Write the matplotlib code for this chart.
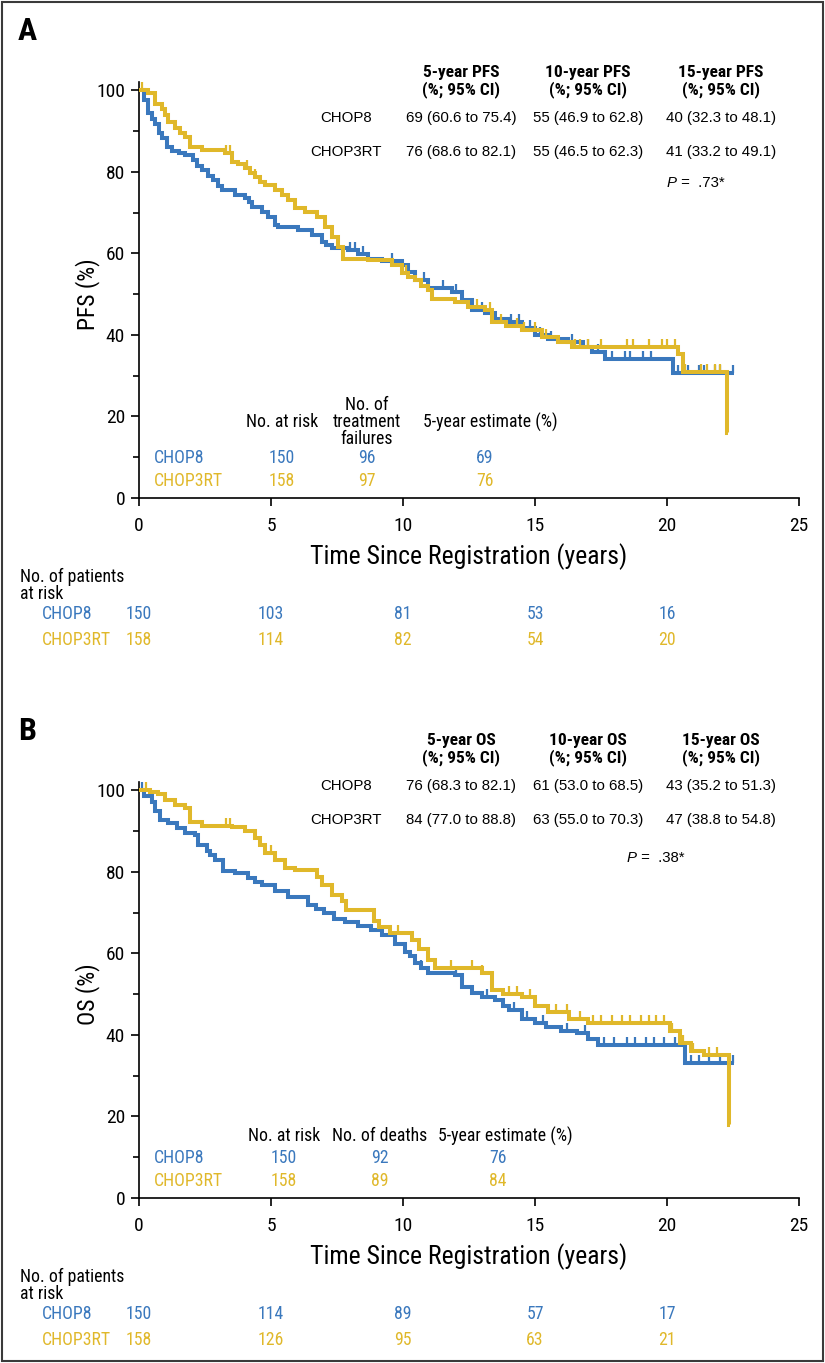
import numpy as np
import matplotlib
matplotlib.use("Agg")
import matplotlib.pyplot as plt
from matplotlib.patches import Rectangle
import matplotlib.transforms as mtransforms
from matplotlib import font_manager

# ---------------- data ----------------
arms = ["CHOP8", "CHOP3RT"]

# Panel A: PFS step curves (time in years, PFS %)
A_chop8_t = [0, 0.2, 0.35, 0.5, 0.61, 0.75, 0.86, 1.05, 1.24, 1.5, 1.74, 2.06, 2.2, 2.37, 2.6, 2.82, 3.0,
             3.13, 3.64, 4.02, 4.15, 4.27, 4.65, 4.9, 5.15, 5.28, 6.03, 6.54, 6.92, 7.1, 7.3, 7.93, 8.3,
             8.69, 9.2, 9.95, 10.2, 10.45, 10.96, 11.84, 12.22, 12.6, 13.1, 13.48, 13.99, 14.5, 15.0,
             15.5, 16.26, 16.8, 17.15, 17.65, 20.24, 22.55]
A_chop8_v = [100, 97.5, 94.3, 93.0, 91.8, 89.5, 88.2, 86.1, 85.1, 84.5, 84.1, 82.8, 81.5, 80.4, 79.0, 77.9, 76.5,
             75.5, 74.3, 73.5, 72.5, 71.4, 70.2, 68.9, 66.9, 66.5, 65.7, 64.5, 62.8, 62.0, 61.2, 60.8, 59.8,
             58.7, 58.0, 57.1, 55.5, 53.4, 51.4, 50.6, 48.5, 46.1, 45.3, 44.0, 43.2, 41.6, 40.0,
             39.1, 38.3, 37.0, 35.9, 34.2, 30.7, 30.7]
A_chop3rt_t = [0, 0.35, 0.61, 0.86, 1.0, 1.11, 1.36, 1.55, 1.74, 1.93, 2.37, 3.26, 3.51, 3.75, 4.02, 4.2,
               4.39, 4.6, 4.77, 5.15, 5.4, 5.66, 5.91, 6.29, 6.73, 7.05, 7.3, 7.55, 7.74, 8.69, 9.57, 9.95,
               10.2, 10.45, 10.7, 10.96, 11.09, 11.97, 12.47, 13.1, 13.36, 13.9, 14.5, 15.25, 15.88, 16.4,
               20.43, 20.6, 22.28, 22.3]
A_chop3rt_v = [100, 99.2, 96.7, 95.5, 93.8, 92.2, 90.6, 89.5, 88.6, 86.1, 85.3, 84.5, 82.4, 81.8, 80.8, 79.8,
               78.8, 77.5, 76.7, 75.5, 74.3, 73.0, 71.0, 70.2, 68.9, 66.5, 64.0, 61.6, 58.7, 58.3, 57.1, 55.1,
               54.2, 53.4, 52.0, 51.0, 48.9, 48.1, 46.9, 46.1, 43.2, 42.2, 41.2, 39.5, 38.3, 37.1,
               35.4, 31.0, 16.0, 16.0]
A_chop8_cens = [8.0, 8.2, 8.5, 9.6, 10.8, 11.5, 12.0, 13.0, 14.1, 14.4, 14.8, 15.2, 15.6, 16.4, 17.0, 17.4,
                17.9, 18.4, 18.6, 19.1, 19.4, 20.4, 20.6, 20.8, 21.2, 21.4, 21.8, 22.0, 22.5]
A_chop3rt_cens = [0.1, 3.3, 3.45, 4.1, 4.4, 10.1, 12.8, 13.3, 13.7, 14.3, 14.6, 15.0, 15.4, 16.5, 16.7, 17.0,
                  17.5, 18.5, 18.7, 19.3, 19.8, 20.0, 20.3, 20.7, 21.3, 21.5, 21.8, 22.0]

# Panel B: OS step curves
B_chop8_t = [0, 0.2, 0.48, 0.6, 0.8, 1.11, 1.43, 1.74, 2.12, 2.25, 2.56, 2.7, 2.88, 3.19, 3.64, 4.14, 4.4,
             4.65, 5.15, 5.66, 6.03, 6.41, 6.7, 7.0, 7.4, 7.8, 8.3, 8.8, 9.2, 9.7, 10.08, 10.25, 10.45,
             10.7, 10.96, 11.97, 12.22, 12.6, 13.0, 13.5, 13.8, 14.0, 14.5, 15.0, 15.4, 16.0, 16.6, 17.0,
             17.4, 20.7, 22.55]
B_chop8_v = [100, 98.5, 97.2, 95.0, 92.7, 91.9, 90.7, 89.5, 89.0, 86.6, 85.0, 84.0, 82.9, 80.1, 79.7, 78.4, 77.6,
             76.8, 75.2, 73.9, 73.7, 71.9, 70.8, 69.8, 68.4, 67.6, 66.8, 65.6, 64.6, 62.4, 60.4, 59.3, 57.5,
             56.3, 55.1, 54.7, 51.8, 50.2, 49.3, 48.5, 47.0, 46.0, 44.0, 43.0, 42.0, 41.0, 40.5, 39.0,
             37.5, 33.0, 33.0]
B_chop3rt_t = [0, 0.4, 0.73, 0.98, 1.36, 1.74, 1.93, 2.37, 3.51, 4.02, 4.39, 4.6, 4.77, 5.15, 5.53, 5.91,
               6.73, 6.92, 7.3, 7.68, 7.85, 8.9, 9.1, 9.5, 10.33, 10.6, 10.96, 11.2, 12.98, 13.36, 13.8,
               14.5, 15.0, 15.5, 16.3, 17.0, 20.1, 20.5, 20.9, 21.4, 22.35, 22.4]
B_chop3rt_v = [100, 99.5, 99.0, 97.6, 96.4, 95.6, 92.3, 91.1, 90.9, 89.9, 88.2, 86.5, 84.6, 82.9, 80.9, 80.5,
               78.8, 76.8, 74.3, 72.7, 70.5, 68.0, 66.5, 64.9, 63.2, 61.0, 58.3, 56.3, 55.1, 51.0, 50.0,
               49.3, 47.0, 45.5, 44.0, 43.0, 41.0, 38.0, 36.0, 35.0, 18.0, 18.0]
B_chop8_cens = [0.1, 10.7, 12.0, 13.2, 14.2, 14.7, 15.3, 16.2, 16.9, 17.6, 18.0, 18.5, 18.8, 19.2, 19.5,
                19.9, 20.3, 20.9, 21.2, 21.6, 22.0, 22.5]
B_chop3rt_cens = [0.25, 3.3, 3.45, 4.4, 5.0, 9.8, 11.8, 12.6, 13.0, 14.0, 14.3, 14.8, 15.5, 15.8, 16.2, 16.7,
                  17.2, 17.5, 17.9, 18.3, 18.6, 19.0, 19.3, 19.6, 19.9, 20.2, 20.6, 21.0, 21.6, 21.9]

# summary tables
A_header = ["5-year PFS", "10-year PFS", "15-year PFS"]
A_estimates = {"CHOP8": ["69 (60.6 to 75.4)", "55 (46.9 to 62.8)", "40 (32.3 to 48.1)"],
               "CHOP3RT": ["76 (68.6 to 82.1)", "55 (46.5 to 62.3)", "41 (33.2 to 49.1)"]}
A_p = ".73*"
B_header = ["5-year OS", "10-year OS", "15-year OS"]
B_estimates = {"CHOP8": ["76 (68.3 to 82.1)", "61 (53.0 to 68.5)", "43 (35.2 to 51.3)"],
               "CHOP3RT": ["84 (77.0 to 88.8)", "63 (55.0 to 70.3)", "47 (38.8 to 54.8)"]}
B_p = ".38*"

# inset tables
A_inset_cols = ["No. at risk", "No. of\ntreatment\nfailures", "5-year estimate (%)"]
A_inset = {"CHOP8": ["150", "96", "69"], "CHOP3RT": ["158", "97", "76"]}
B_inset_cols = ["No. at risk", "No. of deaths", "5-year estimate (%)"]
B_inset = {"CHOP8": ["150", "92", "76"], "CHOP3RT": ["158", "89", "84"]}

# number at risk
risk_times = [0, 5, 10, 15, 20]
A_risk = {"CHOP8": [150, 103, 81, 53, 16], "CHOP3RT": [158, 114, 82, 54, 20]}
B_risk = {"CHOP8": [150, 114, 89, 57, 17], "CHOP3RT": [158, 126, 95, 63, 21]}

# ---------------- style ----------------
W, H = 825, 1363
BLUE = "#3a78bd"
GOLD = "#e0b82a"
colors = {"CHOP8": BLUE, "CHOP3RT": GOLD}

available = {f.name for f in font_manager.fontManager.ttflist}
narrow_pref = ["Roboto Condensed", "Liberation Sans Narrow", "DejaVu Sans Condensed", "Roboto"]
NARROW = [f for f in narrow_pref if f in available][:1] + ["DejaVu Sans"]
REG = ["Liberation Sans", "DejaVu Sans"]

fig = plt.figure(figsize=(W / 100, H / 100), dpi=100)


def fx(x):
    return x / W


def fy(y):
    return 1 - y / H


def txt(x, y, s, **kw):
    kw.setdefault("ha", "center")
    kw.setdefault("va", "center")
    fig.text(fx(x), fy(y), s, **kw)


def step_value(t_arr, v_arr, t):
    i = np.searchsorted(np.asarray(t_arr), t, side="right") - 1
    return np.asarray(v_arr)[max(i, 0)]


def panel(off, letter, ylab, curves, cens, header, estimates, pval, p_x, tab_off,
          inset_cols, inset_x, inset, inset_vals_x, inset_hdr_y, risk):
    y_axis0 = 498 + off
    ax = fig.add_axes([fx(139), fy(y_axis0), fx(799) - fx(139), (416) / H])
    for arm in arms:
        t, v = curves[arm]
        ax.step(t, v, where="post", color=colors[arm], lw=2.9, solid_joinstyle="miter",
                solid_capstyle="butt", zorder=3 if arm == "CHOP3RT" else 2)
        ct = np.asarray(cens[arm])
        cv = [step_value(t, v, c) for c in ct]
        ax.plot(ct, cv, ls="none", marker=[(0, 0), (0, 1)], ms=11, mew=1.6,
                color=colors[arm], zorder=3 if arm == "CHOP3RT" else 2)
    ax.set_xlim(0, 25)
    ax.set_ylim(0, 102)
    ax.spines["top"].set_visible(False)
    ax.spines["right"].set_visible(False)
    for s in ("left", "bottom"):
        ax.spines[s].set_linewidth(1.2)
    ax.set_xticks([0, 5, 10, 15, 20, 25])
    ax.set_yticks([0, 20, 40, 60, 80, 100])
    ax.set_yticks([10, 30, 50, 70, 90], minor=True)
    ax.tick_params(axis="both", which="major", length=6, width=1.2, direction="out",
                   labelsize=14, pad=4)
    ax.tick_params(axis="y", which="minor", length=4, width=1.2)
    ax.tick_params(axis="x", pad=8)
    for lab in ax.get_xticklabels() + ax.get_yticklabels():
        lab.set_family(NARROW)
    ax.patch.set_alpha(0)

    # labels
    txt(18, 31 + off, letter, ha="left", family=NARROW, weight="bold", fontsize=23)
    txt(88, 294 + off, ylab, rotation=90, family=NARROW, fontsize=17)
    txt(469, 557 + off, "Time Since Registration (years)", family=NARROW, fontsize=18.5)

    # summary table
    col_x = [461, 588, 721]
    for cx, h in zip(col_x, header):
        txt(cx, 72 + off + tab_off, h, family=NARROW, weight="bold", fontsize=12.5)
        txt(cx, 90 + off + tab_off, "(%; 95% CI)", family=NARROW, weight="bold", fontsize=12.5)
    row_y = {"CHOP8": 118 + off + tab_off, "CHOP3RT": 152 + off + tab_off}
    for arm in arms:
        txt(346, row_y[arm], arm, family=REG, fontsize=10.8)
        for cx, s in zip(col_x, estimates[arm]):
            txt(cx, row_y[arm], s, family=REG, fontsize=10.8)
    py = row_y["CHOP3RT"] + (31 if off == 0 else 38)
    txt(p_x, py, "P", ha="left", family=REG, style="italic", fontsize=10.8)
    txt(p_x + 10, py, " =  " + pval, ha="left", family=REG, fontsize=10.8)

    # inset table
    for cx, h in zip(inset_x, inset_cols):
        txt(cx, inset_hdr_y + off, h, family=NARROW, fontsize=12.8, linespacing=0.95)
    inset_row_y = {"CHOP8": 458 + off, "CHOP3RT": 481 + off}
    for arm in arms:
        txt(154, inset_row_y[arm], arm, ha="left", family=NARROW, fontsize=12.8, color=colors[arm])
        for cx, s in zip(inset_vals_x, inset[arm]):
            txt(cx, inset_row_y[arm], s, family=NARROW, fontsize=12.8, color=colors[arm])

    # number at risk table below
    txt(20, 577 + off, "No. of patients", ha="left", family=NARROW, fontsize=12.8)
    txt(20, 594 + off, "at risk", ha="left", family=NARROW, fontsize=12.8)
    trans = mtransforms.blended_transform_factory(ax.transData, fig.transFigure)
    risk_y = {"CHOP8": 614 + off, "CHOP3RT": 640 + off}
    for arm in arms:
        txt(42, risk_y[arm], arm, ha="left", family=NARROW, fontsize=12.8, color=colors[arm])
        for t, n in zip(risk_times, risk[arm]):
            ax.text(t, fy(risk_y[arm]), str(n), transform=trans, ha="center", va="center",
                    family=NARROW, fontsize=12.8, color=colors[arm], clip_on=False)
    return ax


panel(0, "A", "PFS (%)",
      {"CHOP8": (A_chop8_t, A_chop8_v), "CHOP3RT": (A_chop3rt_t, A_chop3rt_v)},
      {"CHOP8": A_chop8_cens, "CHOP3RT": A_chop3rt_cens},
      A_header, A_estimates, A_p, 667, 0,
      A_inset_cols, [282, 367, 490], A_inset, [282, 367, 485], 422, A_risk)

panel(700, "B", "OS (%)",
      {"CHOP8": (B_chop8_t, B_chop8_v), "CHOP3RT": (B_chop3rt_t, B_chop3rt_v)},
      {"CHOP8": B_chop8_cens, "CHOP3RT": B_chop3rt_cens},
      B_header, B_estimates, B_p, 627, -32,
      B_inset_cols, [284, 380, 505], B_inset, [284, 380, 498], 436, B_risk)

fig.patches.append(Rectangle((fx(2), fy(1361)), fx(821), 1359 / H, transform=fig.transFigure,
                             fill=False, edgecolor="#3a3a3a", linewidth=1.5))

fig.savefig("out.png", dpi=100)
